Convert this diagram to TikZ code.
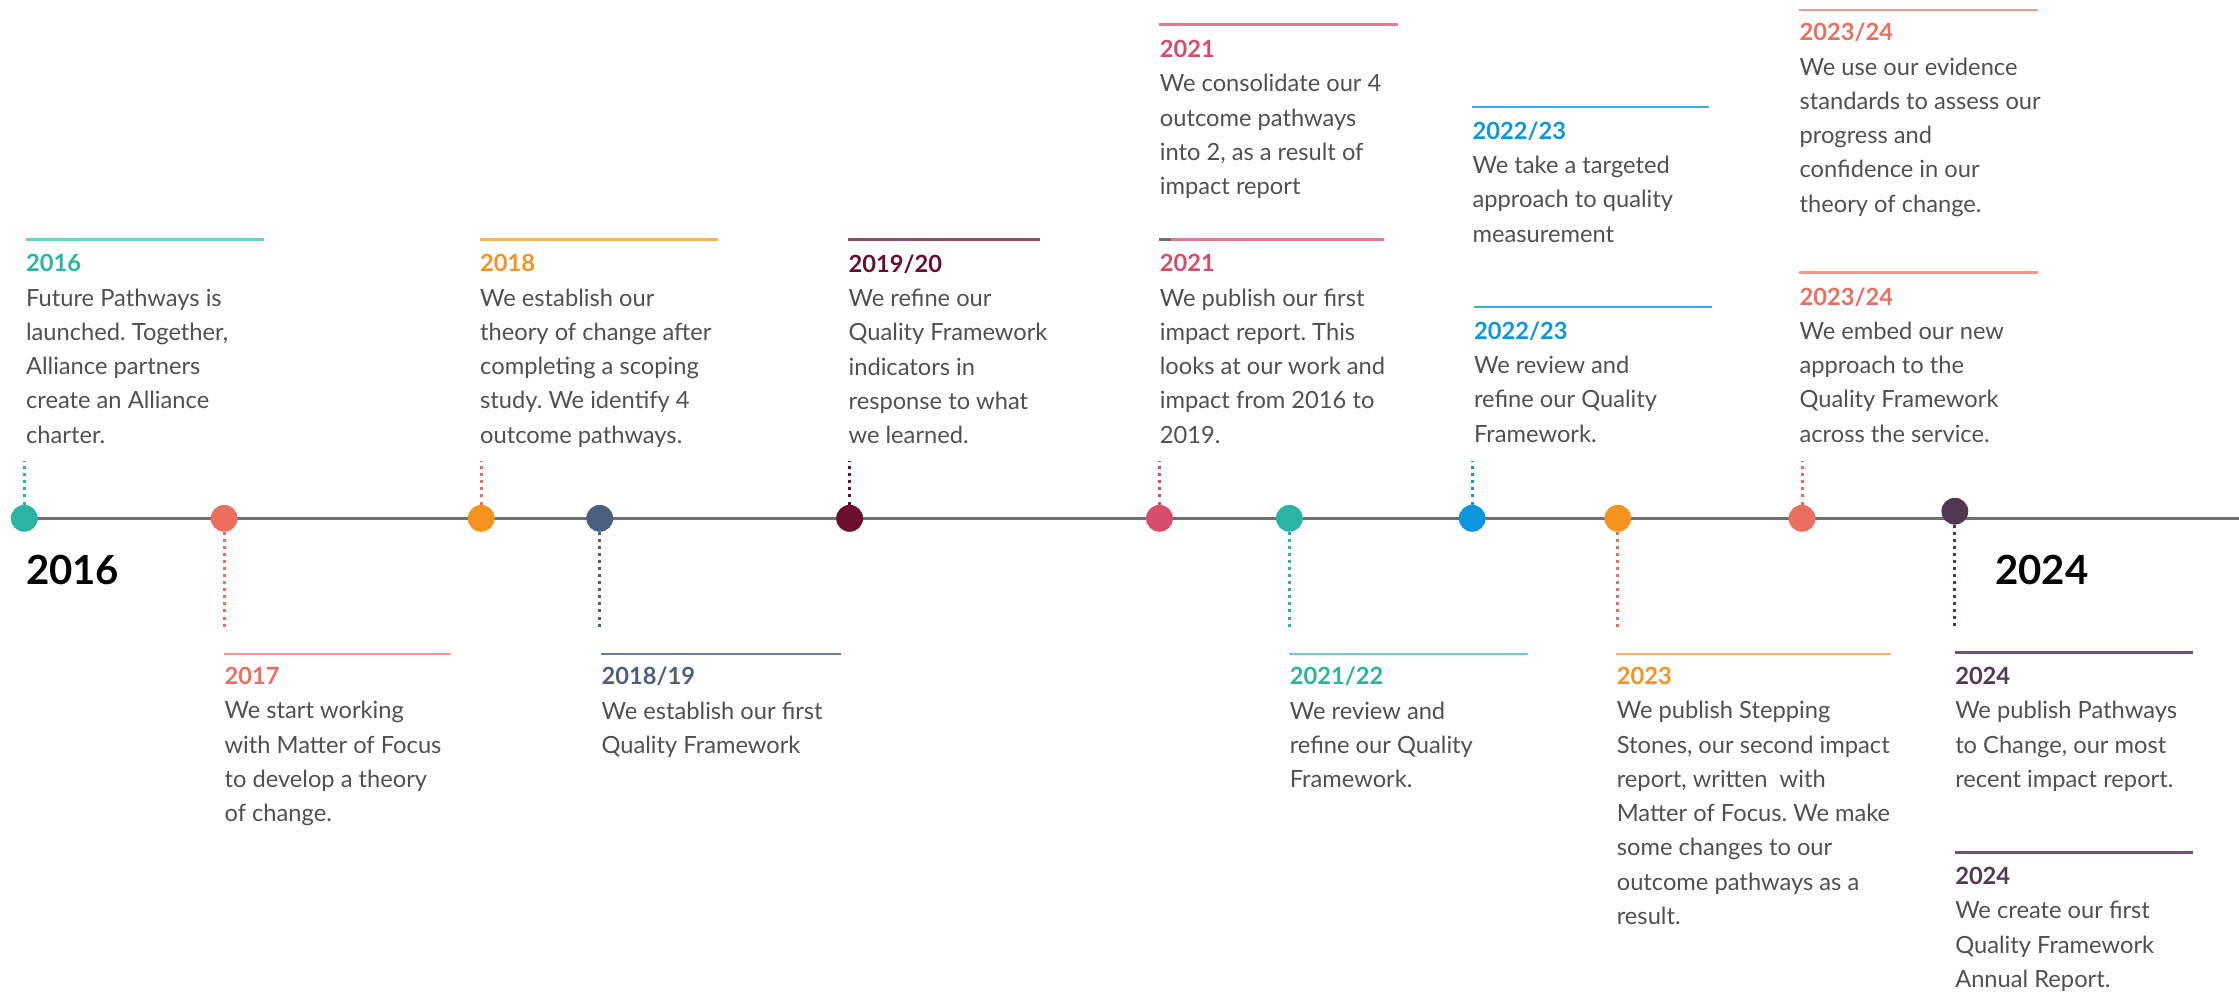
\documentclass[tikz,border=0pt]{standalone}
\usepackage{fontspec}
\setmainfont{Lato}
\usepackage{tikz}
\frenchspacing

\definecolor{tealdot}{HTML}{2AB5A2}
\definecolor{tealrule}{HTML}{6ED0C4}
\definecolor{salmondot}{HTML}{EA6F5E}
\definecolor{salmonrule}{HTML}{F29A90}
\definecolor{orangedot}{HTML}{F5931E}
\definecolor{orangerule}{HTML}{F8B163}
\definecolor{slatedot}{HTML}{4B6080}
\definecolor{slaterule}{HTML}{6A7EA0}
\definecolor{maroondot}{HTML}{6A0E2B}
\definecolor{maroonrule}{HTML}{8E4F63}
\definecolor{crimsondot}{HTML}{D64D69}
\definecolor{crimsonrule}{HTML}{E07D90}
\definecolor{bluedot}{HTML}{0B96DD}
\definecolor{bluerule}{HTML}{3BAEE6}
\definecolor{purpledot}{HTML}{513752}
\definecolor{purplerule}{HTML}{6E5470}
\definecolor{bodygray}{HTML}{505050}
\definecolor{axisgray}{HTML}{707070}

\tikzset{
  dot/.style={circle, inner sep=0pt, minimum size=0.47cm},
  stemline/.style={line width=1.5pt, dash pattern=on 1.5pt off 2pt},
  yearrule/.style={line width=1.4pt},
  entry/.style={anchor=north west, align=left, inner sep=0pt, text=bodygray,
    font=\fontsize{11.8}{17.07}\selectfont},
  bigyear/.style={anchor=base west, inner sep=0pt, text=black,
    font=\fontsize{20}{24}\selectfont\bfseries}
}

\begin{document}
\begin{tikzpicture}[x=0.025cm, y=-0.025cm]
    \useasboundingbox (0,0) rectangle (1568,696);

    % Timeline
    \coordinate (start) at (17,363);
    \coordinate (end) at (1568,363);
    \draw[axisgray, line width=1.4pt] (start) -- (end);

    % Dots on the timeline
    \foreach \n/\x/\y/\col in {2016/17/363/tealdot, 2017/157/363/salmondot,
        2018/337/363/orangedot, 201819/420/363/slatedot, 201920/595/363/maroondot,
        2021/812/363/crimsondot, 202122/903/363/tealdot, 202223/1031/363/bluedot,
        2023/1133/363/orangedot, 202324/1262/363/salmondot, 2024/1369/358/purpledot} {
        \node[dot, fill=\col] (d\n) at (\x,\y) {};
    }

    % Stems above the line
    \foreach \n/\x/\col in {2016/17/tealdot, 2018/337/salmondot, 201920/595/maroondot,
        2021/812/crimsondot, 202223/1031/bluedot, 202324/1262/salmondot} {
        \coordinate (s\n) at (\x,323);
        \draw[stemline, \col] (d\n.north) -- (s\n);
    }

    % Stems below the line
    \foreach \n/\x/\col in {2017/157/salmondot, 201819/420/slatedot, 202122/903/tealdot,
        2023/1133/salmondot, 2024/1369/purpledot} {
        \coordinate (s\n) at (\x,441);
        \draw[stemline, \col] (d\n.south) -- (s\n);
    }

    % Big year labels
    \node[bigyear] (y2016) at (18,409) {2016};
    \node[bigyear] (y2024) at (1397,409) {2024};

    % 2016
    \draw[yearrule, tealrule] (18,168) -- (185,168);
    \node[entry] (e2016) at (18,178) {{\color{tealdot}\bfseries 2016}\\
        Future Pathways is\\launched. Together,\\Alliance partners\\create an Alliance\\charter.};

    % 2018
    \draw[yearrule, orangerule] (336,168) -- (503,168);
    \node[entry] (e2018) at (336,178) {{\color{orangedot}\bfseries 2018}\\
        We establish our\\theory of change after\\completing a scoping\\study. We identify 4\\outcome pathways.};

    % 2019/20
    \draw[yearrule, maroonrule] (594,168) -- (728,168);
    \node[entry] (e201920) at (594,178) {{\color{maroondot}\bfseries 2019/20}\\
        We refine our\\Quality Framework\\indicators in\\response to what\\we learned.};

    % 2021, first impact report
    \draw[yearrule, crimsonrule] (812,168) -- (969,168);
    \draw[yearrule, axisgray] (812,168) -- (820,168);
    \node[entry] (e2021b) at (812,178) {{\color{crimsondot}\bfseries 2021}\\
        We publish our first\\impact report. This\\looks at our work and\\impact from 2016 to\\2019.};

    % 2021, pathways consolidated
    \draw[yearrule, crimsonrule] (812,17) -- (979,17);
    \node[entry] (e2021a) at (812,28) {{\color{crimsondot}\bfseries 2021}\\
        We consolidate our 4\\outcome pathways\\into 2, as a result of\\impact report};

    % 2022/23
    \draw[yearrule, bluerule] (1031,75) -- (1197,75);
    \node[entry] (e202223a) at (1031,85) {{\color{bluedot}\bfseries 2022/23}\\
        We take a targeted\\approach to quality\\measurement};
    \draw[yearrule, bluerule] (1032,215) -- (1199,215);
    \node[entry] (e202223b) at (1032,225) {{\color{bluedot}\bfseries 2022/23}\\
        We review and\\refine our Quality\\Framework.};

    % 2023/24
    \draw[yearrule, salmonrule] (1260,7) -- (1427,7);
    \node[entry] (e202324a) at (1260,16) {{\color{salmondot}\bfseries 2023/24}\\
        We use our evidence\\standards to assess our\\progress and\\confidence in our\\theory of change.};
    \draw[yearrule, salmonrule] (1260,191) -- (1427,191);
    \node[entry] (e202324b) at (1260,201) {{\color{salmondot}\bfseries 2023/24}\\
        We embed our new\\approach to the\\Quality Framework\\across the service.};

    % 2017
    \draw[yearrule, salmonrule] (157,458) -- (316,458);
    \node[entry] (e2017) at (157,467) {{\color{salmondot}\bfseries 2017}\\
        We start working\\with Matter of Focus\\to develop a theory\\of change.};

    % 2018/19
    \draw[yearrule, slaterule] (421,458) -- (589,458);
    \node[entry] (e201819) at (421,467) {{\color{slatedot}\bfseries 2018/19}\\
        We establish our first\\Quality Framework};

    % 2021/22
    \draw[yearrule, tealrule] (903,458) -- (1070,458);
    \node[entry] (e202122) at (903,467) {{\color{tealdot}\bfseries 2021/22}\\
        We review and\\refine our Quality\\Framework.};

    % 2023
    \draw[yearrule, orangerule] (1132,458) -- (1324,458);
    \node[entry] (e2023) at (1132,467) {{\color{orangedot}\bfseries 2023}\\
        We publish Stepping\\Stones, our second impact\\report, written\ \ with\\Matter of Focus. We make\\some changes to our\\outcome pathways as a\\result.};

    % 2024
    \draw[yearrule, purplerule] (1369,457) -- (1536,457);
    \node[entry] (e2024a) at (1369,467) {{\color{purpledot}\bfseries 2024}\\
        We publish Pathways\\to Change, our most\\recent impact report.};
    \draw[yearrule, purplerule] (1369,597) -- (1536,597);
    \node[entry] (e2024b) at (1369,607) {{\color{purpledot}\bfseries 2024}\\
        We create our first\\Quality Framework\\Annual Report.};
\end{tikzpicture}
\end{document}
